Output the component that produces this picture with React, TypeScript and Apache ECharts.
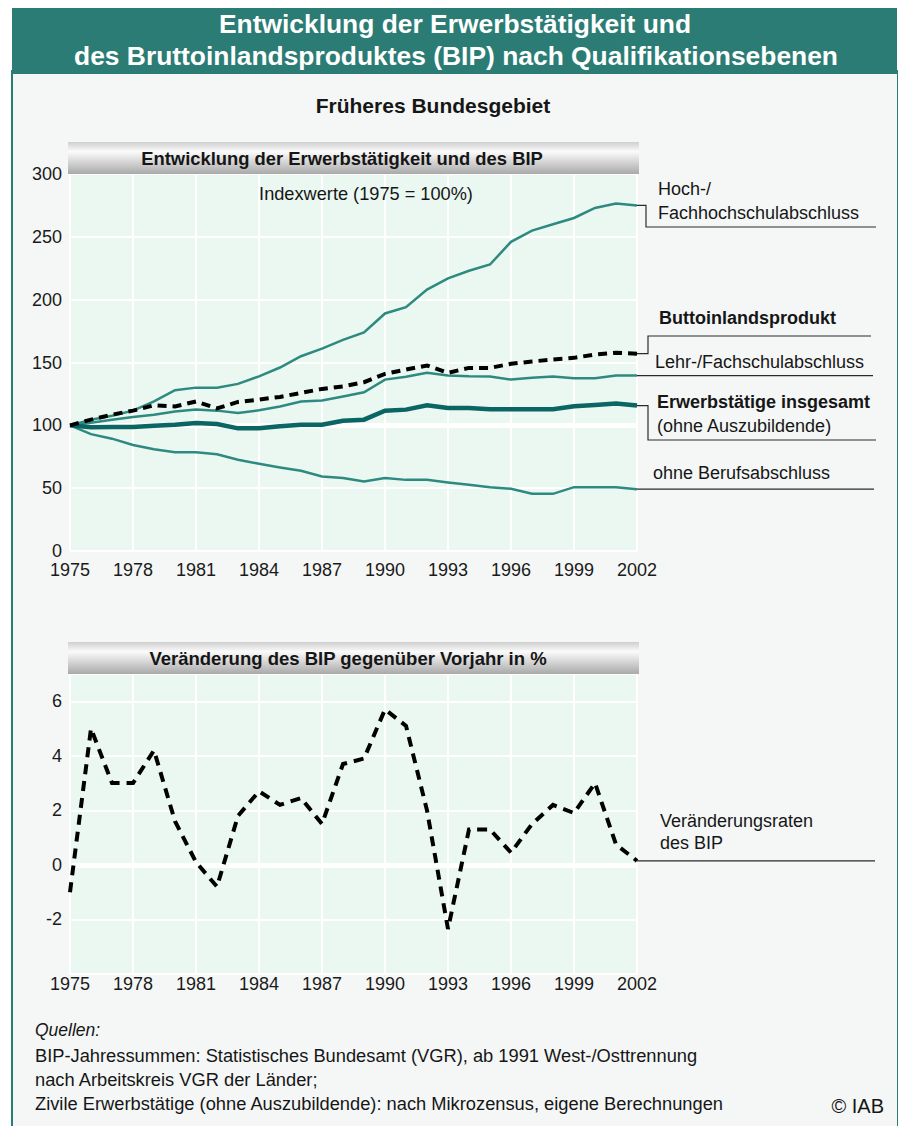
import React, { useEffect, useRef } from "react";
import * as echarts from "echarts";

const years = [
  "1975", "1976", "1977", "1978", "1979", "1980", "1981", "1982", "1983", "1984",
  "1985", "1986", "1987", "1988", "1989", "1990", "1991", "1992", "1993", "1994",
  "1995", "1996", "1997", "1998", "1999", "2000", "2001", "2002",
];

// Index values (1975 = 100)
const hochschule = [100, 104.5, 107.7, 111.7, 119, 128, 130, 130, 133, 139, 146, 155, 161, 168, 174, 189, 194, 208, 217, 223, 228, 246, 255, 260, 265, 273, 276.5, 275];
const bip = [100, 104.5, 108.5, 111.7, 116, 115, 119, 113.5, 118.6, 120.5, 122.6, 125.8, 129, 131, 134.3, 141, 144.4, 147.6, 141.8, 145.7, 145.7, 149, 150.8, 152.4, 153.7, 156.4, 157.7, 157];
const lehre = [100, 102, 104.5, 106.6, 108.5, 111, 112.5, 111.7, 109.8, 112, 115, 119, 119.7, 123, 126.3, 136.4, 138.6, 141.8, 139.6, 139, 138.8, 136.4, 137.8, 138.8, 137.5, 137.5, 139.6, 139.6];
const insgesamt = [100, 98.4, 98.7, 98.7, 99.7, 100.5, 101.9, 101, 97.6, 97.6, 99.2, 100.5, 100.5, 103.7, 104.5, 111.7, 112.5, 116, 113.8, 113.8, 112.8, 112.8, 112.8, 112.8, 115.2, 116.2, 117.3, 115.7];
const ohneAbschluss = [100, 93, 89.4, 84.3, 81, 78.5, 78.5, 77, 72.6, 69.4, 66.5, 63.8, 59.3, 58, 55.3, 58, 56.6, 56.6, 54.5, 52.7, 50.8, 49.5, 45.5, 45.5, 50.8, 50.8, 50.8, 49.2];

// BIP change vs previous year in %
const bipVeraenderung = [-1.0, 5.0, 3.0, 3.0, 4.2, 1.6, 0.1, -0.8, 1.8, 2.7, 2.2, 2.45, 1.5, 3.7, 3.9, 5.7, 5.1, 2.0, -2.35, 1.3, 1.3, 0.45, 1.5, 2.2, 1.9, 3.0, 0.75, 0.15];

const upperTicks = { min: 0, max: 300, interval: 50 };
const lowerTicks = { min: -4, max: 7, interval: 2 };
const lowerShownLabels = [-2, 0, 2, 4, 6];

const FONT = "'Liberation Sans', Arial, Helvetica, sans-serif";
const TEAL = "#2b7c74";
const THIN = "#2e8a80";
const THICK = "#0b6562";
const LBL = 18;

function txt(text: string, x: number, y: number, size: number, opts: any = {}) {
  return {
    type: "text",
    x,
    y,
    z: 10,
    silent: true,
    style: {
      text,
      fontSize: size,
      fontFamily: FONT,
      fontWeight: opts.bold ? "bold" : "normal",
      fontStyle: opts.italic ? "italic" : "normal",
      fill: opts.color || "#161616",
      align: opts.align || "left",
      textAlign: opts.align || "left",
      verticalAlign: "middle",
      textVerticalAlign: "middle",
    },
  };
}

function poly(points: number[][]) {
  return {
    type: "polyline",
    z: 10,
    silent: true,
    shape: { points },
    style: { stroke: "#2a2a2a", lineWidth: 1.2, fill: null },
  };
}

export default function App() {
  const ref = useRef<HTMLDivElement>(null);

  useEffect(() => {
    document.body.style.margin = "0";
    const chart = echarts.init(ref.current!, null, { renderer: "svg" });

    const catAxis = (gridIndex: number, margin: number) => ({
      type: "category",
      gridIndex,
      data: years,
      boundaryGap: false,
      axisLine: { show: false },
      axisTick: { show: false },
      axisLabel: { interval: 2, fontSize: 18, lineHeight: 16, fontFamily: FONT, color: "#1a1a1a", margin },
      splitLine: { show: true, interval: 2, lineStyle: { color: "#ffffff", width: 2 } },
    });

    const lineSeries = (name: string, data: number[], color: string, width: number, z = 3, dash: any = "solid") => ({
      name,
      type: "line",
      xAxisIndex: 0,
      yAxisIndex: 0,
      data,
      symbol: "none",
      z,
      lineStyle: { color, width, type: dash, cap: "butt", join: "miter" },
    });

    const whiteRef = (gridIndex: number, value: number) => ({
      type: "line",
      xAxisIndex: gridIndex,
      yAxisIndex: gridIndex,
      data: [],
      z: 1,
      silent: true,
      markLine: {
        z: 1,
        silent: true,
        symbol: "none",
        label: { show: false },
        lineStyle: { color: "#ffffff", width: 5, type: "solid" },
        data: [{ yAxis: value }],
      },
    });

    chart.setOption({
      animation: false,
      grid: [
        { left: 70, top: 174, width: 567, height: 377, show: true, backgroundColor: "#eaf8f1", borderColor: "#8fc4bb", borderWidth: 1 },
        { left: 70, top: 674, width: 567, height: 300, show: true, backgroundColor: "#eaf8f1", borderColor: "#8fc4bb", borderWidth: 1 },
      ],
      xAxis: [catAxis(0, 11), catAxis(1, 2)],
      yAxis: [
        {
          type: "value",
          gridIndex: 0,
          ...upperTicks,
          axisLine: { show: false },
          axisTick: { show: false },
          axisLabel: { fontSize: 18, lineHeight: 16, fontFamily: FONT, color: "#1a1a1a", margin: 8 },
          splitLine: { lineStyle: { color: "#ffffff", width: 2 } },
        },
        {
          type: "value",
          gridIndex: 1,
          ...lowerTicks,
          axisLine: { show: false },
          axisTick: { show: false },
          axisLabel: {
            fontSize: 18,
            lineHeight: 16,
            fontFamily: FONT,
            color: "#1a1a1a",
            margin: 8,
            formatter: (v: number) => (lowerShownLabels.includes(v) ? String(v) : ""),
          },
          splitLine: { lineStyle: { color: "#ffffff", width: 2 } },
        },
      ],
      series: [
        whiteRef(0, 100),
        lineSeries("ohne Berufsabschluss", ohneAbschluss, THIN, 2.5),
        lineSeries("Lehr-/Fachschulabschluss", lehre, THIN, 2.5),
        lineSeries("Hoch-/Fachhochschulabschluss", hochschule, THIN, 2.5),
        lineSeries("Erwerbstätige insgesamt", insgesamt, THICK, 4.5, 4),
        lineSeries("Bruttoinlandsprodukt", bip, "#000000", 4, 5, [9, 6]),
        whiteRef(1, 0),
        {
          name: "Veränderungsraten des BIP",
          type: "line",
          xAxisIndex: 1,
          yAxisIndex: 1,
          data: bipVeraenderung,
          symbol: "none",
          z: 5,
          lineStyle: { color: "#000000", width: 4, type: [10, 7], cap: "butt", join: "miter" },
        },
      ],
    });

    const last = years.length - 1;
    const pt = (grid: number, v: number) =>
      chart.convertToPixel({ xAxisIndex: grid, yAxisIndex: grid } as any, [last, v]) as number[];
    const pHoch = pt(0, hochschule[last]);
    const pBip = pt(0, bip[last]);
    const pLehr = pt(0, lehre[last]);
    const pTot = pt(0, insgesamt[last]);
    const pOhne = pt(0, ohneAbschluss[last]);
    const pG = pt(1, bipVeraenderung[last]);

    const headerGrad = new echarts.graphic.LinearGradient(0, 0, 0, 1, [
      { offset: 0, color: "#cfcfcf" },
      { offset: 0.3, color: "#fbfbfb" },
      { offset: 1, color: "#a9a9a9" },
    ]);

    chart.setOption({
      graphic: [
        { type: "rect", z: 5, silent: true, shape: { x: 12, y: 8, width: 885, height: 66 }, style: { fill: TEAL } },
        txt("Entwicklung der Erwerbstätigkeit und", 455, 24, 26.4, { bold: true, color: "#ffffff", align: "center" }),
        txt("des Bruttoinlandsproduktes (BIP) nach Qualifikationsebenen", 456, 56, 26.4, { bold: true, color: "#ffffff", align: "center" }),
        txt("Früheres Bundesgebiet", 433, 105, 21, { bold: true, align: "center" }),
        { type: "rect", z: 5, silent: true, shape: { x: 68, y: 142, width: 571, height: 32 }, style: { fill: headerGrad } },
        txt("Entwicklung der Erwerbstätigkeit und des BIP", 342, 158, 18.4, { bold: true, align: "center" }),
        { type: "rect", z: 5, silent: true, shape: { x: 68, y: 642, width: 571, height: 32 }, style: { fill: headerGrad } },
        txt("Veränderung des BIP gegenüber Vorjahr in %", 348, 658, 18.5, { bold: true, align: "center" }),
        txt("Indexwerte (1975 = 100%)", 366, 194, 18.2, { align: "center" }),

        txt("Hoch-/", 658, 189, LBL),
        txt("Fachhochschulabschluss", 658, 213, LBL),
        poly([[pHoch[0], pHoch[1]], [646, pHoch[1]], [646, 227], [876, 227]]),
        txt("Buttoinlandsprodukt", 659, 318, LBL, { bold: true }),
        poly([[pBip[0], pBip[1]], [648, pBip[1]], [648, 336], [871, 336]]),
        txt("Lehr-/Fachschulabschluss", 655, 362, LBL),
        poly([[pLehr[0], pLehr[1]], [873, pLehr[1]]]),
        txt("Erwerbstätige insgesamt", 657, 402, LBL, { bold: true }),
        txt("(ohne Auszubildende)", 657, 426, LBL),
        poly([[pTot[0], pTot[1]], [648, pTot[1]], [648, 440], [876, 440]]),
        txt("ohne Berufsabschluss", 653, 473, LBL),
        poly([[pOhne[0], pOhne[1]], [874, pOhne[1]]]),
        txt("Veränderungsraten", 660, 821, LBL),
        txt("des BIP", 660, 843, LBL),
        poly([[pG[0], pG[1]], [875, pG[1]]]),

        txt("Quellen:", 35, 1030, 17.5, { italic: true }),
        txt("BIP-Jahressummen: Statistisches Bundesamt (VGR), ab 1991 West-/Osttrennung", 35, 1055, 18.3),
        txt("nach Arbeitskreis VGR der Länder;", 35, 1079, 18.3),
        txt("Zivile Erwerbstätige (ohne Auszubildende): nach Mikrozensus, eigene Berechnungen", 35, 1103, 18.3),
        txt("© IAB", 884, 1106, 20, { align: "right" }),
      ],
    });

    return () => chart.dispose();
  }, []);

  return (
    <div style={{ position: "relative", width: 898, height: 1126, background: "#ffffff", overflow: "hidden" }}>
      <div
        style={{
          position: "absolute",
          left: 11,
          top: 70,
          width: 884,
          height: 1070,
          background: "#f5f7f6",
          borderLeft: `2px solid ${TEAL}`,
          borderRight: `2px solid ${TEAL}`,
        }}
      />
      <div ref={ref} style={{ position: "absolute", left: 0, top: 0, width: 898, height: 1126 }} />
    </div>
  );
}
